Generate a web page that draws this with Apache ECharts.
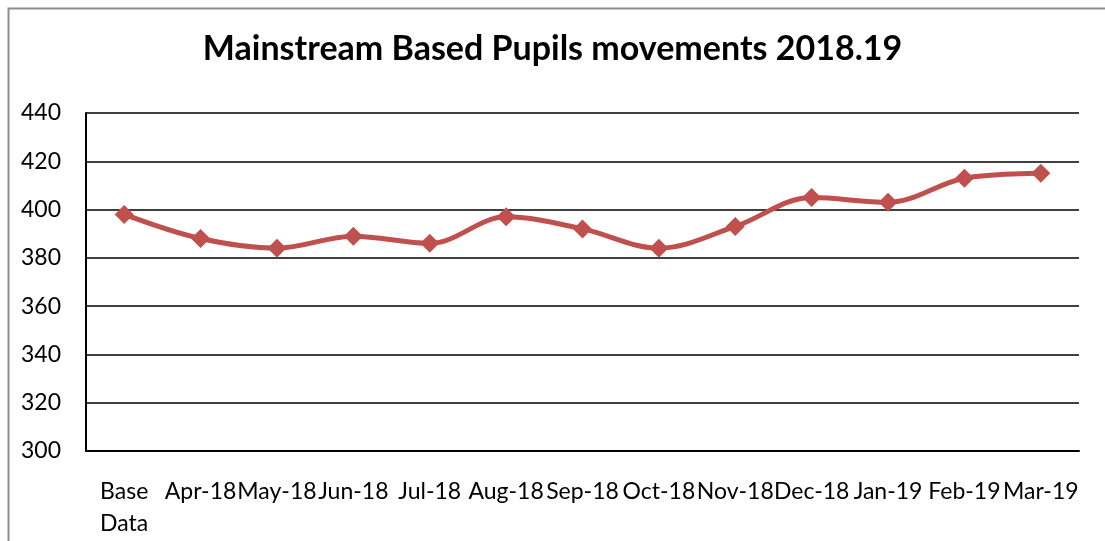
<!DOCTYPE html>
<html>
<head>
<meta charset="utf-8">
<script src="https://cdn.jsdelivr.net/npm/echarts@6/dist/echarts.min.js"></script>
<style>
body{margin:0;background:#fff;}
#chart{width:1105px;height:541px;}
</style>
</head>
<body>
<div id="chart"></div>
<script>
var months = ['Base\nData','Apr-18','May-18','Jun-18','Jul-18','Aug-18','Sep-18','Oct-18','Nov-18','Dec-18','Jan-19','Feb-19','Mar-19'];
var pupils = [398,388,384,389,386,397,392,384,393,405,403,413,415];

var myChart = echarts.init(document.getElementById('chart'));
var option = {
	animation:false,
	textStyle:{fontFamily:'Lato'},
	title:{
		text:'Mainstream Based Pupils movements 2018.19',
		left:'center',
		top:27,
		textStyle:{fontSize:34,fontWeight:'bold',color:'#000',fontFamily:'Lato'}
	},
	graphic:[{
		type:'rect',
		shape:{x:8.5,y:8.5,width:1200,height:700},
		style:{fill:'none',stroke:'#8c8c8c',lineWidth:2},
		silent:true
	}],
	grid:{left:86,right:26,top:113,bottom:90},
	xAxis:{
		type:'category',
		data:months,
		boundaryGap:true,
		axisLine:{lineStyle:{color:'#000',width:2}},
		axisTick:{show:false},
		axisLabel:{fontSize:23,color:'#000',margin:25,lineHeight:32,interval:0,fontFamily:'Lato'}
	},
	yAxis:{
		type:'value',
		min:300,
		max:440,
		interval:20,
		axisLine:{show:true,lineStyle:{color:'#000',width:2}},
		axisTick:{show:false},
		splitLine:{lineStyle:{color:'#000',width:1.5}},
		axisLabel:{fontSize:23,color:'#000',margin:25,fontFamily:'Lato'}
	},
	series:[{
		type:'line',
		data:pupils,
		smooth:0.35,
		symbol:'diamond',
		symbolSize:19,
		lineStyle:{color:'#C0504D',width:5},
		itemStyle:{color:'#C0504D'}
	}]
};
myChart.setOption(option);
</script>
</body>
</html>
